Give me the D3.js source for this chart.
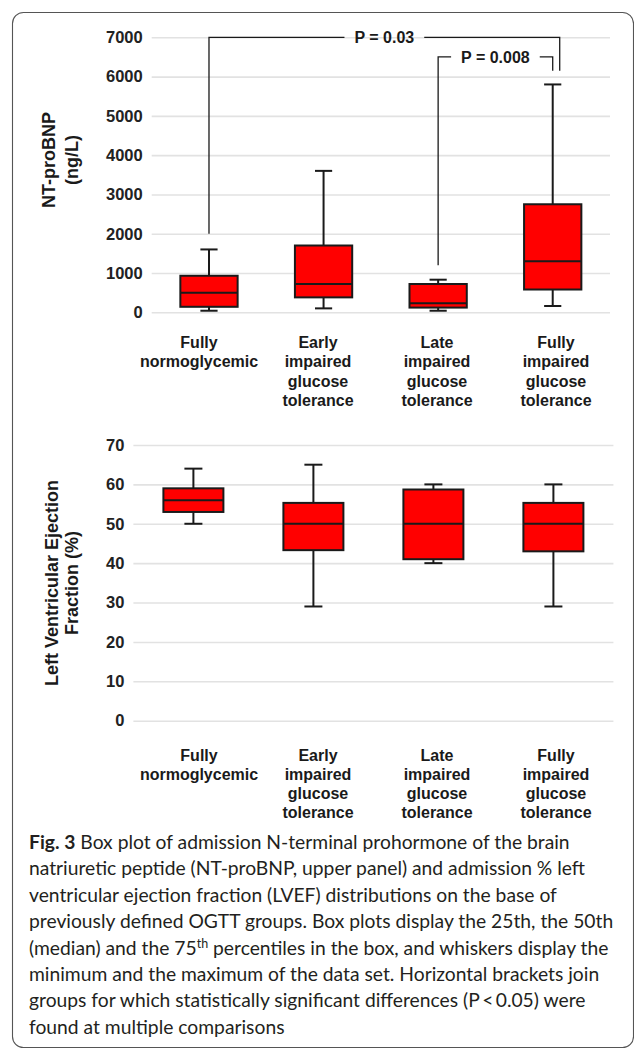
<!DOCTYPE html>
<html>
<head>
<meta charset="utf-8">
<script src="https://cdn.jsdelivr.net/npm/d3@7"></script>
<style>
  html, body { margin: 0; padding: 0; background: #fff; }
  svg { display: block; }
</style>
</head>
<body>
<svg id="fig" width="634" height="1052"></svg>
<script>
// ---- Data -------------------------------------------------------------
const categories = [
  "Fully normoglycemic",
  "Early impaired glucose tolerance",
  "Late impaired glucose tolerance",
  "Fully impaired glucose tolerance"
];
const categoryLines = [
  ["Fully", "normoglycemic"],
  ["Early", "impaired", "glucose", "tolerance"],
  ["Late", "impaired", "glucose", "tolerance"],
  ["Fully", "impaired", "glucose", "tolerance"]
];

// NT-proBNP (ng/L): min, 25th, median, 75th, max
const bnpMin    = [40, 100, 40, 160];
const bnpQ1     = [140, 380, 120, 580];
const bnpMedian = [500, 720, 230, 1300];
const bnpQ3     = [930, 1700, 720, 2750];
const bnpMax    = [1600, 3600, 830, 5800];
const bnpTicks  = [0, 1000, 2000, 3000, 4000, 5000, 6000, 7000];

// LVEF (%): min, 25th, median, 75th, max
const lvefMin    = [50, 29, 40, 29];
const lvefQ1     = [53, 43.3, 41, 43];
const lvefMedian = [56, 50, 50, 50];
const lvefQ3     = [59, 55.3, 58.7, 55.3];
const lvefMax    = [64, 65, 60, 60];
const lvefTicks  = [0, 10, 20, 30, 40, 50, 60, 70];

// Significance brackets on the NT-proBNP panel
const bracketPairs  = [[0, 3], [2, 3]];
const bracketLevels = [7000, 6500];
const bracketEnds   = [[2000, 6150], [1200, 6150]];
const bracketLabels = ["P = 0.03", "P = 0.008"];

// Caption
const captionLines = [
  [{t: "Fig. 3", b: true}, {t: "  Box plot of admission N-terminal prohormone of the brain"}],
  [{t: "natriuretic peptide (NT-proBNP, upper panel) and admission % left"}],
  [{t: "ventricular ejection fraction (LVEF) distributions on the base of"}],
  [{t: "previously defined OGTT groups. Box plots display the 25th, the 50th"}],
  [{t: "(median) and the 75"}, {t: "th", sup: true}, {t: " percentiles in the box, and whiskers display the"}],
  [{t: "minimum and the maximum of the data set. Horizontal brackets join"}],
  [{t: "groups for which statistically significant differences (P\u2009<\u20090.05) were"}],
  [{t: "found at multiple comparisons"}]
];

// ---- Drawing ------------------------------------------------------------
const svg = d3.select("#fig");
const chartFont = "'Liberation Sans', Arial, Helvetica, sans-serif";
const ink = "#1a1a1a";

// outer frame
svg.append("rect")
  .attr("x", 12.5).attr("y", 12.5)
  .attr("width", 621).attr("height", 1035)
  .attr("rx", 11).attr("ry", 11)
  .attr("fill", "none").attr("stroke", "#555").attr("stroke-width", 1.1);

function boxPanel(cfg) {
  const g = svg.append("g");
  const x = d3.scaleBand().domain(categories)
    .range([cfg.left, cfg.right]).paddingInner(0.5).paddingOuter(0.25);
  const y = d3.scaleLinear().domain([0, d3.max(cfg.ticks)])
    .range([cfg.bottom, cfg.top]);

  // gridlines + tick labels
  const axis = g.append("g")
    .attr("transform", `translate(${cfg.left},0)`)
    .call(d3.axisLeft(y).tickValues(cfg.ticks)
      .tickSize(-(cfg.right - cfg.left)).tickPadding(9).tickFormat(d3.format("d")));
  axis.select(".domain").remove();
  axis.selectAll(".tick line").attr("stroke", "#e2e2e2").attr("stroke-width", 1.6);
  axis.selectAll(".tick text")
    .attr("font-family", chartFont).attr("font-weight", "bold")
    .attr("font-size", 16.5).attr("fill", "#222");

  const rows = categories.map((c, i) => ({
    c, min: cfg.min[i], q1: cfg.q1[i], med: cfg.med[i], q3: cfg.q3[i], max: cfg.max[i]
  }));
  const bw = x.bandwidth();
  const cap = bw * 0.3;
  const cx = d => x(d.c) + bw / 2;

  const box = g.selectAll(".box").data(rows).join("g").attr("class", "box");
  box.append("line")
    .attr("x1", cx).attr("x2", cx)
    .attr("y1", d => y(d.min)).attr("y2", d => y(d.max))
    .attr("stroke", ink).attr("stroke-width", 2);
  box.append("line")
    .attr("x1", d => cx(d) - cap / 2).attr("x2", d => cx(d) + cap / 2)
    .attr("y1", d => y(d.max)).attr("y2", d => y(d.max))
    .attr("stroke", ink).attr("stroke-width", 2);
  box.append("line")
    .attr("x1", d => cx(d) - cap / 2).attr("x2", d => cx(d) + cap / 2)
    .attr("y1", d => y(d.min)).attr("y2", d => y(d.min))
    .attr("stroke", ink).attr("stroke-width", 2);
  box.append("rect")
    .attr("x", d => x(d.c)).attr("width", bw)
    .attr("y", d => y(d.q3)).attr("height", d => y(d.q1) - y(d.q3))
    .attr("fill", "#ff0000").attr("stroke", ink).attr("stroke-width", 2);
  box.append("line")
    .attr("x1", d => x(d.c)).attr("x2", d => x(d.c) + bw)
    .attr("y1", d => y(d.med)).attr("y2", d => y(d.med))
    .attr("stroke", ink).attr("stroke-width", 2);

  // category labels, multi-line, under the plot
  const lx = d3.scaleBand().domain(categories).range(cfg.labelRange);
  const lab = g.append("g")
    .attr("transform", `translate(0,${cfg.labelY})`)
    .call(d3.axisBottom(lx).tickSize(0).tickPadding(0));
  lab.select(".domain").remove();
  lab.selectAll(".tick text")
    .attr("font-family", chartFont).attr("font-weight", "bold")
    .attr("font-size", 16).attr("fill", ink)
    .attr("dy", null).attr("y", 0)
    .text(null)
    .each(function(d) {
      const lines = categoryLines[categories.indexOf(d)];
      d3.select(this).selectAll("tspan").data(lines).join("tspan")
        .attr("x", 0).attr("y", (l, k) => k * 19.3).text(l => l);
    });

  // rotated axis title
  const tg = g.append("g")
    .attr("transform", `translate(${cfg.titleX},${cfg.titleY}) rotate(-90)`);
  cfg.title.forEach((t, k) => {
    tg.append("text")
      .attr("text-anchor", "middle")
      .attr("x", 0).attr("y", cfg.titleOffsets[k] + 0.36 * 18)
      .attr("font-family", chartFont).attr("font-weight", "bold")
      .attr("font-size", 18).attr("fill", ink)
      .text(t);
  });

  return {g, x, y};
}

const bnpPanel = boxPanel({
  left: 151.7, right: 610, top: 37.3, bottom: 312.3,
  ticks: bnpTicks, min: bnpMin, q1: bnpQ1, med: bnpMedian, q3: bnpQ3, max: bnpMax,
  labelRange: [139.5, 615.5], labelY: 348,
  title: ["NT-proBNP", "(ng/L)"], titleX: 49, titleY: 160, titleOffsets: [0, 22.5]
});

boxPanel({
  left: 133.4, right: 613.4, top: 445, bottom: 720.7,
  ticks: lvefTicks, min: lvefMin, q1: lvefQ1, med: lvefMedian, q3: lvefQ3, max: lvefMax,
  labelRange: [139.5, 615.5], labelY: 760.5,
  title: ["Left Ventricular Ejection", "Fraction (%)"], titleX: 51.5, titleY: 583, titleOffsets: [0, 20]
});

// significance brackets
{
  const {g, x, y} = bnpPanel;
  const bw = x.bandwidth();
  const cx = i => x(categories[i]) + bw / 2;
  bracketPairs.forEach(([a, b], k) => {
    // the outer bracket steps slightly right so its drop clears the inner one
    const shiftB = k === 0 ? 7 : 0;
    const xa = cx(a), xb = cx(b) + shiftB;
    const yl = y(bracketLevels[k]);
    const mid = (xa + xb) / 2;
    const label = g.append("text")
      .attr("x", mid).attr("y", yl).attr("dy", "0.35em")
      .attr("text-anchor", "middle")
      .attr("font-family", chartFont).attr("font-weight", "bold")
      .attr("font-size", 16).attr("fill", ink)
      .text(bracketLabels[k]);
    const half = label.node().getComputedTextLength() / 2 + 10;
    const path = d3.path();
    path.moveTo(xa, y(bracketEnds[k][0]));
    path.lineTo(xa, yl);
    path.lineTo(mid - half, yl);
    path.moveTo(mid + half, yl);
    path.lineTo(xb, yl);
    path.lineTo(xb, y(bracketEnds[k][1]));
    g.append("path").attr("d", path.toString())
      .attr("fill", "none").attr("stroke", ink).attr("stroke-width", 1.3);
  });
}

// caption
{
  const capFont = "Lato, 'Open Sans', sans-serif";
  const cg = svg.append("g").attr("font-family", capFont).attr("fill", "#231f20");
  const texts = captionLines.map((parts, i) => {
    const t = cg.append("text").attr("x", 29).attr("y", 849 + i * 26.4);
    parts.forEach(p => {
      const s = t.append("tspan").text(p.t);
      if (p.b) s.attr("font-weight", "bold");
      if (p.sup) s.attr("baseline-shift", "super").attr("font-size", "0.65em");
    });
    return t;
  });
  // size the caption so the "groups ... were" line spans its measured width
  cg.attr("font-size", 16);
  const w = texts[6].node().getComputedTextLength();
  cg.attr("font-size", 16 * 557 / w);
}
</script>
</body>
</html>
